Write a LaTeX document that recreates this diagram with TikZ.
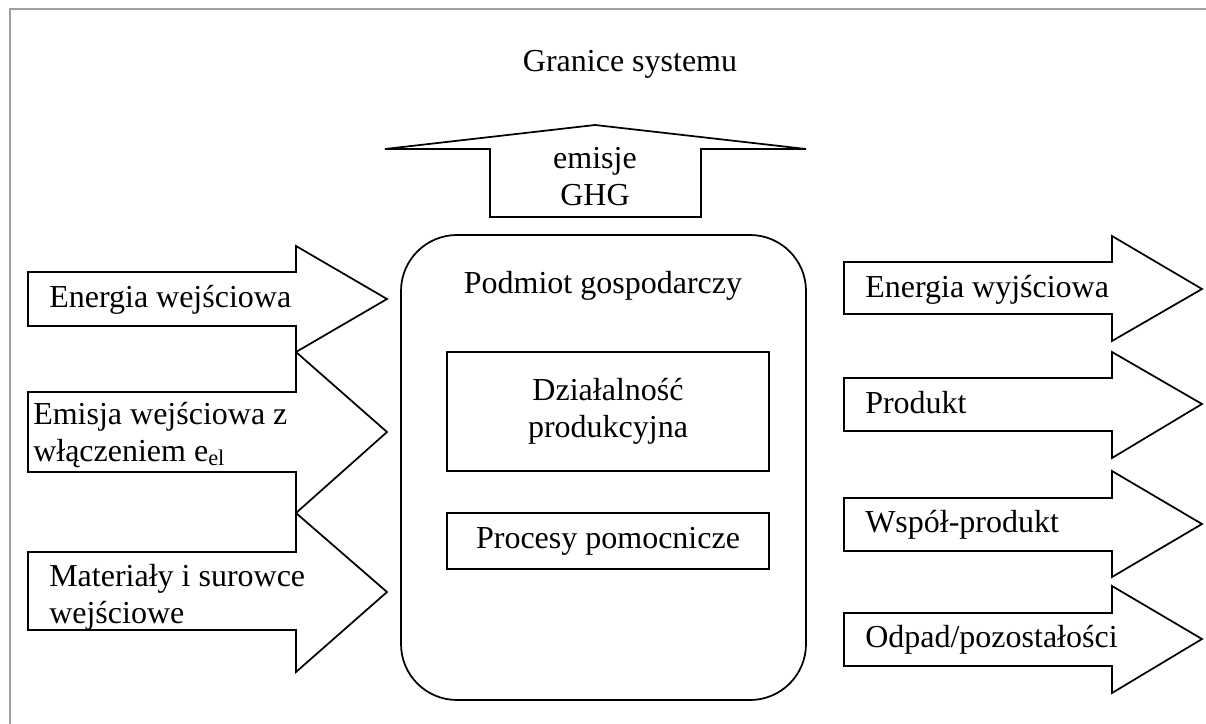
\documentclass[tikz,border=0pt]{standalone}
\usepackage{fontspec}
\setmainfont{Liberation Serif}
\usetikzlibrary{positioning}
\tikzset{%
  flow/.style={draw, line width=1.3pt, fill=white, line join=miter},
  txt/.style={inner sep=0pt, align=left},
  unit/.style={draw, line width=1.3pt, align=center}%
}

\begin{document}
\begin{tikzpicture}[
    x=0.75pt, y=-0.75pt,
    font=\fontsize{24}{27.5}\selectfont,
    frame/.style={draw=gray!75, line width=1.5pt}
]

\useasboundingbox (0,0) rectangle (1206,724);

% outer frame (cut by the page on the right and bottom)
\draw[frame] (10,760) -- (10,9) -- (1240,9);

\node[anchor=base] (granice) at (630,72) {Granice systemu};

% emissions arrow
\draw[flow] (490,217) -- (490,149) -- (385,149) -- (595,125)
    -- (806,149) -- (701,149) -- (701,217) -- cycle;
\node[txt, align=center, anchor=base] (ghg) at (595,205) {emisje\\GHG};

% the company
\node[unit, rounded corners=42pt, minimum width=303.75pt,
    minimum height=348.75pt] (firma) at (603.5,467.5) {};
\node[anchor=base] (podmiot) at (603,293) {Podmiot gospodarczy};
\node[unit, minimum width=241.5pt, minimum height=89.25pt]
    (produkcja) at (608,411.5) {Działalność\\produkcyjna};
\node[unit, minimum width=241.5pt, minimum height=42pt]
    (pomocnicze) at (608,541) {Procesy pomocnicze};

% inputs
\draw[flow] (28,272) -- (296,272) -- (296,246) -- (387,299)
    -- (296,352) -- (296,326) -- (28,326) -- cycle;
\draw[flow] (28,392) -- (296,392) -- (296,352) -- (387,432)
    -- (296,513) -- (296,472) -- (28,472) -- cycle;
\draw[flow] (28,552) -- (296,552) -- (296,513) -- (387,592)
    -- (296,672) -- (296,630) -- (28,630) -- cycle;
\node[txt, anchor=base west] (energiawe) at (49,307) {Energia wejściowa};
\node[txt, anchor=base west] (emisjawe) at (33,461)
    {Emisja wejściowa z\\włączeniem e\textsubscript{el}};
\node[txt, anchor=base west] (materialy) at (49,623)
    {Materiały i surowce\\wejściowe};

% outputs
\draw[flow] (844,262) -- (1112,262) -- (1112,236) -- (1202,289)
    -- (1112,341) -- (1112,314) -- (844,314) -- cycle;
\draw[flow] (844,378) -- (1112,378) -- (1112,352) -- (1202,404)
    -- (1112,458) -- (1112,431) -- (844,431) -- cycle;
\draw[flow] (844,498) -- (1112,498) -- (1112,471) -- (1202,524)
    -- (1112,577) -- (1112,551) -- (844,551) -- cycle;
\draw[flow] (844,613) -- (1112,613) -- (1112,586) -- (1202,639)
    -- (1112,693) -- (1112,666) -- (844,666) -- cycle;
\node[txt, anchor=base west] (energiawy) at (865,297) {Energia wyjściowa};
\node[txt, anchor=base west] (produkt) at (865,413) {Produkt};
\node[txt, anchor=base west] (wspol) at (865,532) {Współ-produkt};
\node[txt, anchor=base west] (odpad) at (865,647) {Odpad/pozostałości};

\end{tikzpicture}
\end{document}
